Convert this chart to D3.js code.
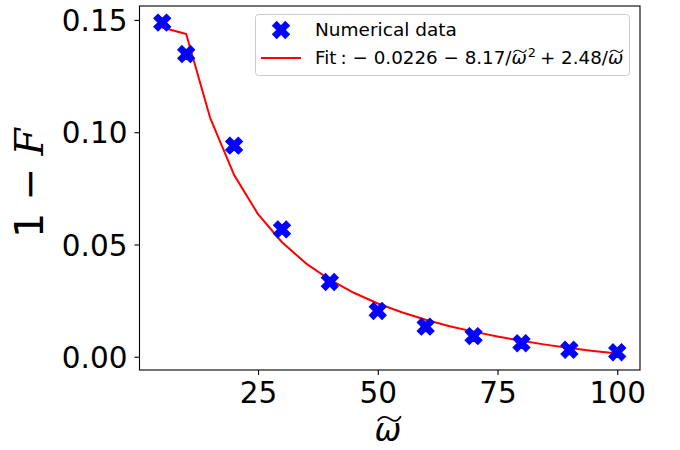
<!DOCTYPE html>
<html>
<head>
<meta charset="utf-8">
<script src="https://cdn.jsdelivr.net/npm/d3@7"></script>
<style>
  html, body { margin: 0; padding: 0; background: #fff; }
  svg { display: block; font-family: "DejaVu Sans", sans-serif; }
</style>
</head>
<body>
<svg id="chart" width="680" height="450"></svg>
<script>
// Numerical data: 1 - F against omega-tilde
const omegaData = [5, 10, 20, 30, 40, 50, 60, 70, 80, 90, 100];
const infidelity = [0.1488, 0.1348, 0.0940, 0.0567, 0.0333, 0.0204, 0.0134, 0.0092, 0.0060, 0.0031, 0.0020];

// Fit curve -0.0226 - 8.17/w^2 + 2.48/w, sampled every 5
const omegaFit = [5, 10, 15, 20, 25, 30, 35, 40, 45, 50, 55, 60, 65, 70, 75, 80, 85, 90, 95, 100];
const fitValues = [0.1466, 0.1437, 0.1064, 0.0810, 0.0635, 0.0510, 0.0416, 0.0343, 0.0285, 0.0237,
                   0.0198, 0.0165, 0.0136, 0.0112, 0.0090, 0.0071, 0.0054, 0.0039, 0.0026, 0.0014];

const xTicks = [25, 50, 75, 100];
const yTicks = [0, 0.05, 0.10, 0.15];

const svg = d3.select("#chart");
const plotL = 139.5, plotR = 640, plotT = 6, plotB = 370;

const x = d3.scaleLinear().domain([0.25, 104.75]).range([plotL, plotR]);
const y = d3.scaleLinear().domain([-0.0059, 0.1562]).range([plotB, plotT]);

// Axes
const xAxis = svg.append("g")
  .attr("transform", `translate(0,${plotB})`)
  .call(d3.axisBottom(x).tickValues(xTicks).tickFormat(d3.format("d")).tickSize(5).tickPadding(7));
const yAxis = svg.append("g")
  .attr("transform", `translate(${plotL},0)`)
  .call(d3.axisLeft(y).tickValues(yTicks).tickFormat(d3.format(".2f")).tickSize(5).tickPadding(7));

[xAxis, yAxis].forEach(a => {
  a.select(".domain").remove();
  a.selectAll(".tick line").attr("stroke", "#000").attr("stroke-width", 1.1);
  a.selectAll(".tick text").attr("fill", "#000")
    .style("font-family", "'DejaVu Sans', sans-serif").style("font-size", "29.5px");
});
xAxis.selectAll(".tick text").attr("dy", "0.7em");
yAxis.selectAll(".tick text").attr("dy", "0.36em");

// Fit line
const line = d3.line().x((d, i) => x(omegaFit[i])).y(d => y(d));
svg.append("path")
  .datum(fitValues)
  .attr("d", line)
  .attr("fill", "none")
  .attr("stroke", "#ff0000")
  .attr("stroke-width", 2)
  .attr("stroke-linejoin", "round");

// Filled-X markers
const xMarker = d3.symbol().type(d3.symbolCross).size(20 * 3.0 * 3.0);
svg.append("g").selectAll("path")
  .data(infidelity)
  .join("path")
  .attr("d", xMarker)
  .attr("transform", (d, i) => `translate(${x(omegaData[i])},${y(d)}) rotate(45)`)
  .attr("fill", "#0000ff")
  .attr("stroke", "#0000ff")
  .attr("stroke-width", 1);

// Frame
svg.append("rect")
  .attr("x", plotL).attr("y", plotT)
  .attr("width", plotR - plotL).attr("height", plotB - plotT)
  .attr("fill", "none").attr("stroke", "#000").attr("stroke-width", 1.1);

// Draws a run of text pieces left to right; pieces may be italic, superscript or carry a wide tilde
function mathText(g, parts, x0, y0, size) {
  let cx = x0;
  parts.forEach(p => {
    const fs = p.sup ? size * 0.7 : size;
    const t = g.append("text")
      .attr("x", cx)
      .attr("y", p.sup ? y0 - size * 0.4 : y0)
      .style("font-size", fs + "px")
      .style("font-family", "'DejaVu Sans', sans-serif")
      .style("font-style", p.italic ? "oblique" : "normal")
      .attr("fill", "#000")
      .text(p.t);
    const w = t.node().getComputedTextLength();
    if (p.tilde) {
      const x1 = cx + w * 0.12, x2 = cx + w * 0.98;
      const ty = y0 - size * 0.72;
      const h = size * 0.09;
      const mw = (x2 - x1);
      g.append("path")
        .attr("d", `M${x1},${ty + h} C${x1 + mw * 0.25},${ty - h * 1.6} ${x1 + mw * 0.5},${ty + h * 0.2} ${x1 + mw * 0.55},${ty + h * 0.4} S${x2 - mw * 0.2},${ty + h * 2.2} ${x2},${ty - h * 0.6}`)
        .attr("fill", "none").attr("stroke", "#000").attr("stroke-width", size * 0.055);
    }
    cx += w + (p.gap || 0);
  });
  return cx - x0;
}

// Axis labels
const xl = svg.append("g");
const xlw = mathText(xl, [{ t: "ω", italic: true, tilde: true }], 0, 0, 32);
xl.attr("transform", `translate(${388 - xlw / 2},441)`);

const yl = svg.append("g").attr("transform", "translate(43,183) rotate(-90)");
const ylt = yl.append("text")
  .attr("text-anchor", "middle")
  .style("font-size", "39px")
  .attr("fill", "#000");
ylt.append("tspan").style("font-family", "'DejaVu Sans', sans-serif").text("1 − ");
ylt.append("tspan").style("font-family", "'DejaVu Serif', serif").style("font-style", "italic").text("F");

// Legend
const lg = svg.append("g");
lg.append("rect")
  .attr("x", 255.5).attr("y", 14.5).attr("width", 374).attr("height", 61).attr("rx", 3)
  .attr("fill", "#fff").attr("fill-opacity", 0.8)
  .attr("stroke", "#cccccc").attr("stroke-width", 1);
lg.append("path")
  .attr("d", xMarker)
  .attr("transform", "translate(281,30) rotate(45)")
  .attr("fill", "#0000ff").attr("stroke", "#0000ff").attr("stroke-width", 1);
lg.append("line")
  .attr("x1", 261).attr("x2", 301).attr("y1", 58).attr("y2", 58)
  .attr("stroke", "#ff0000").attr("stroke-width", 2);
lg.append("text")
  .attr("x", 315).attr("y", 36)
  .style("font-size", "18.5px").attr("fill", "#000")
  .text("Numerical data");
mathText(lg, [
  { t: "Fit", gap: 4 },
  { t: ":", gap: 6 },
  { t: "− 0.0226 − 8.17/" },
  { t: "ω", italic: true, tilde: true, gap: 1 },
  { t: "2", sup: true, gap: 4 },
  { t: "+ 2.48/" },
  { t: "ω", italic: true, tilde: true }
], 315, 64, 18.3);
</script>
</body>
</html>
